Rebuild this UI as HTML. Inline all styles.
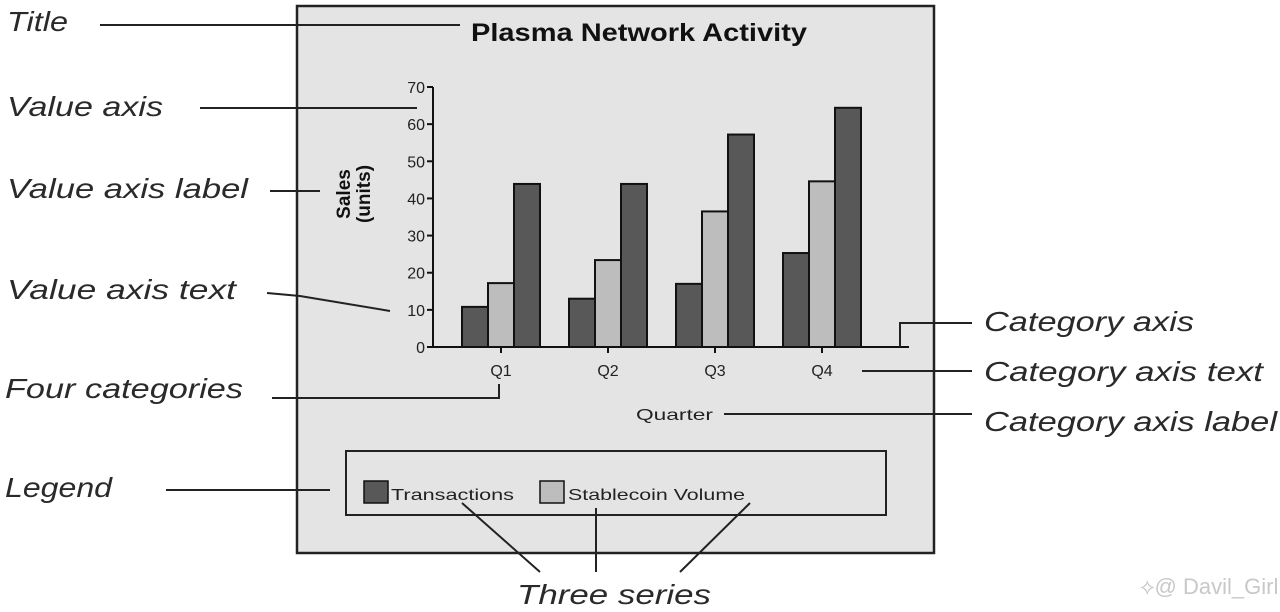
<!DOCTYPE html>
<html><head><meta charset="utf-8"><style>
html,body{margin:0;padding:0;background:#fff;}
svg{display:block;}
.ann{font-family:"Liberation Sans",sans-serif;font-style:italic;font-size:28px;fill:#2a2a2a;}
.tk{font-family:"Liberation Sans",sans-serif;font-size:16px;fill:#222;}
</style></head><body>
<svg id="chart" width="1280" height="612" viewBox="0 0 1280 612">
<rect x="297" y="6" width="637" height="547" fill="#e4e4e4" stroke="#222" stroke-width="2.5"/>
<text x="471" y="41" textLength="336" lengthAdjust="spacingAndGlyphs" font-family="Liberation Sans,sans-serif" font-weight="bold" font-size="25" fill="#111">Plasma Network Activity</text>
<g transform="translate(350,194) rotate(-90)">
<text x="0" y="0" text-anchor="middle" font-family="Liberation Sans,sans-serif" font-weight="bold" font-size="19" fill="#111">Sales</text>
<text x="0" y="20" text-anchor="middle" font-family="Liberation Sans,sans-serif" font-weight="bold" font-size="19" fill="#111">(units)</text>
</g>
<g id="ticks"></g>
<g id="bars"></g>
<line x1="433" y1="87" x2="433" y2="347" stroke="#111" stroke-width="2"/>
<line x1="433" y1="347" x2="909" y2="347" stroke="#111" stroke-width="2"/>
<text x="636" y="420" textLength="77" lengthAdjust="spacingAndGlyphs" class="tk" font-size="17">Quarter</text>
<rect x="346" y="451" width="540" height="64" fill="none" stroke="#222" stroke-width="2"/>
<g>
<rect x="364" y="481" width="24" height="22" fill="#585858" stroke="#111" stroke-width="1.5"/>
<text x="391" y="500" textLength="123" lengthAdjust="spacingAndGlyphs" class="tk" font-size="17">Transactions</text></g>
<g>
<rect x="540" y="481" width="24" height="22" fill="#bdbdbd" stroke="#111" stroke-width="1.5"/>
<text x="568" y="500" textLength="177" lengthAdjust="spacingAndGlyphs" class="tk" font-size="17">Stablecoin Volume</text></g>
<g stroke="#222" stroke-width="2" fill="none">
<line x1="100" y1="25" x2="460" y2="25"/>
<line x1="200" y1="108" x2="417" y2="108"/>
<line x1="270" y1="191" x2="320" y2="191"/>
<polyline points="267,293 300,296 390,311"/>
<polyline points="272,398 499,398 499,384"/>
<line x1="166" y1="490" x2="330" y2="490"/>
<polyline points="900,347 900,323 972,323"/>
<line x1="862" y1="371" x2="972" y2="371"/>
<line x1="724" y1="414" x2="972" y2="414"/>
<line x1="462" y1="503" x2="540" y2="572"/>
<line x1="596" y1="508" x2="596" y2="572"/>
<line x1="750" y1="503" x2="680" y2="572"/>
</g>
<text x="7" y="31" textLength="61" lengthAdjust="spacingAndGlyphs" class="ann">Title</text>
<text x="7" y="116" textLength="156" lengthAdjust="spacingAndGlyphs" class="ann">Value axis</text>
<text x="7" y="198" textLength="241" lengthAdjust="spacingAndGlyphs" class="ann">Value axis label</text>
<text x="7" y="299" textLength="229" lengthAdjust="spacingAndGlyphs" class="ann">Value axis text</text>
<text x="5" y="398" textLength="238" lengthAdjust="spacingAndGlyphs" class="ann">Four categories</text>
<text x="5" y="497" textLength="107" lengthAdjust="spacingAndGlyphs" class="ann">Legend</text>
<text x="984" y="331" textLength="210" lengthAdjust="spacingAndGlyphs" class="ann">Category axis</text>
<text x="984" y="381" textLength="279" lengthAdjust="spacingAndGlyphs" class="ann">Category axis text</text>
<text x="984" y="431" textLength="293" lengthAdjust="spacingAndGlyphs" class="ann">Category axis label</text>
<text x="517" y="604" textLength="194" lengthAdjust="spacingAndGlyphs" class="ann">Three series</text>
<text x="1140" y="594" font-family="Liberation Sans,sans-serif" font-size="22" fill="#c8c8c8">⟡@ Davil_Girl</text>
</svg>
<script>
const categories = ["Q1","Q2","Q3","Q4"];
const transactions = [10.8, 13, 17, 25.3];
const stablecoinVolume = [17.2, 23.4, 36.5, 44.6];
const thirdSeries = [43.9, 43.9, 57.2, 64.4];
const yTicks = [0,10,20,30,40,50,60,70];
const NS="http://www.w3.org/2000/svg";
const y0=347, y1=87, yMax=70;
function yScale(v){return y0-(v/yMax)*(y0-y1);}
function groupX(i){return 462+i*107;}
const bw=26;
const tg=document.getElementById('ticks'), bg=document.getElementById('bars');
yTicks.forEach(t=>{
  const y=yScale(t);
  const l=document.createElementNS(NS,'line');
  l.setAttribute('x1',427);l.setAttribute('x2',433);l.setAttribute('y1',y);l.setAttribute('y2',y);
  l.setAttribute('stroke','#111');l.setAttribute('stroke-width','2');
  
  
  tg.appendChild(l);
  const tx=document.createElementNS(NS,'text');
  tx.setAttribute('x',425);tx.setAttribute('y',y+6);tx.setAttribute('text-anchor','end');tx.setAttribute('class','tk');
  tx.setAttribute('font-size','17');
  tx.textContent=t;
  
  
  tg.appendChild(tx);
});
const series=[[transactions,'#585858','transactions'],[stablecoinVolume,'#bdbdbd','stablecoin-volume'],[thirdSeries,'#585858','series-3']];
categories.forEach((c,i)=>{
  series.forEach((s,j)=>{
    const v=s[0][i];
    const r=document.createElementNS(NS,'rect');
    r.setAttribute('x',groupX(i)+j*bw);r.setAttribute('width',bw);
    r.setAttribute('y',yScale(v));r.setAttribute('height',y0-yScale(v));
    r.setAttribute('fill',s[1]);r.setAttribute('stroke','#111');r.setAttribute('stroke-width','2');
    
    
    bg.appendChild(r);
  });
  const cx=groupX(i)+bw*1.5;
  const tl=document.createElementNS(NS,'line');
  tl.setAttribute('x1',cx);tl.setAttribute('x2',cx);tl.setAttribute('y1',347);tl.setAttribute('y2',353);
  tl.setAttribute('stroke','#111');tl.setAttribute('stroke-width','2');
  
  
  bg.appendChild(tl);
  const t=document.createElementNS(NS,'text');
  t.setAttribute('x',cx);t.setAttribute('y',376);t.setAttribute('text-anchor','middle');t.setAttribute('class','tk');
  t.setAttribute('font-size','17');
  t.textContent=c;
  
  
  bg.appendChild(t);
});
</script>
</body></html>
